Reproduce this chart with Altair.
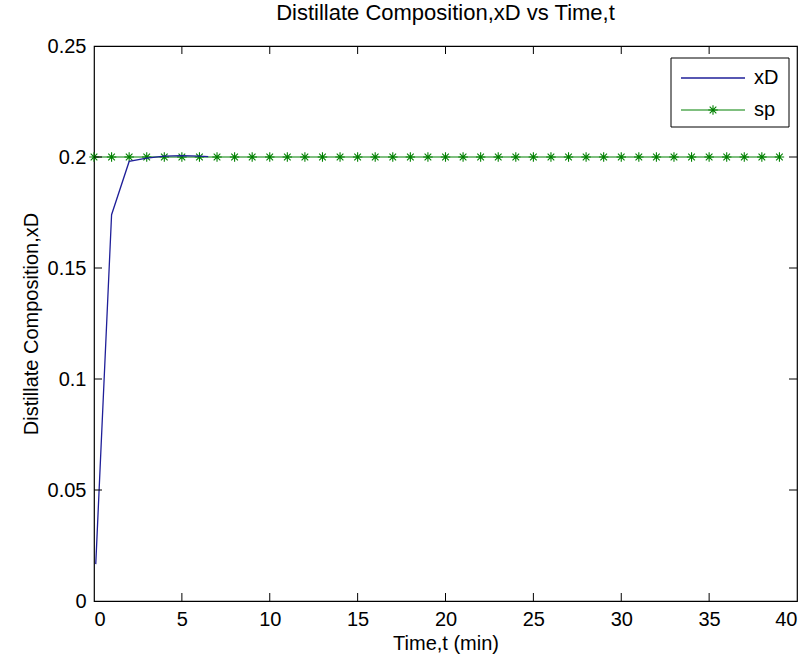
import altair as alt
import pandas as pd

# data
t_xd = [0.1, 1, 2, 3, 4, 5, 6, 6.5]
xd = [0.0166, 0.174, 0.198, 0.1995, 0.2004, 0.2006, 0.2004, 0.2002]
t_sp = list(range(0, 40))
sp = [0.2] * 40
x_ticks = [0, 5, 10, 15, 20, 25, 30, 35, 40]
y_ticks = [0, 0.05, 0.1, 0.15, 0.2, 0.25]

W, H = 703, 555
FONT = "Liberation Sans"
FS = 20
STAR = "M-1,0L1,0M0,-1L0,1M-0.7,-0.7L0.7,0.7M-0.7,0.7L0.7,-0.7"
GREEN = "#008000"
BLUE = "#1f1f99"

df_xd = pd.DataFrame({"t": t_xd, "v": xd})
df_sp = pd.DataFrame({"t": t_sp, "v": sp})

xs = alt.Scale(domain=[0, 40], nice=False, zero=False)
ys = alt.Scale(domain=[0, 0.25], nice=False, zero=False)

xaxis = alt.Axis(values=x_ticks, format="~g", title="Time,t (min)", grid=False,
                 domain=False, ticks=False, labelPadding=8, titlePadding=4,
                 labelFont=FONT, labelFontSize=FS, titleFont=FONT, titleFontSize=FS,
                 titleFontWeight="normal", labelColor="black", titleColor="black")
yaxis = alt.Axis(values=y_ticks, format="~g", title="Distillate Composition,xD", grid=False,
                 domain=False, ticks=False, labelPadding=8, titlePadding=6,
                 labelFont=FONT, labelFontSize=FS, titleFont=FONT, titleFontSize=FS,
                 titleFontWeight="normal", labelColor="black", titleColor="black")

sp_line = alt.Chart(df_sp).mark_line(color=GREEN, strokeWidth=1).encode(
    x=alt.X("t:Q", scale=xs, axis=xaxis),
    y=alt.Y("v:Q", scale=ys, axis=yaxis),
)
sp_pts = alt.Chart(df_sp).mark_point(shape=STAR, filled=False, color=GREEN, size=90, strokeWidth=1.1, opacity=1).encode(
    x=alt.X("t:Q", scale=xs), y=alt.Y("v:Q", scale=ys)
)
xd_line = alt.Chart(df_xd).mark_line(color=BLUE, strokeWidth=1.3).encode(
    x=alt.X("t:Q", scale=xs), y=alt.Y("v:Q", scale=ys)
)

tl = 8
dx = pd.DataFrame({"t": x_ticks[1:-1]})
dy = pd.DataFrame({"v": y_ticks[1:-1]})
tick_b = alt.Chart(dx).mark_rule(color="black").encode(x=alt.X("t:Q", scale=xs), y=alt.value(H), y2=alt.value(H - tl))
tick_t = alt.Chart(dx).mark_rule(color="black").encode(x=alt.X("t:Q", scale=xs), y=alt.value(0), y2=alt.value(tl))
tick_l = alt.Chart(dy).mark_rule(color="black").encode(y=alt.Y("v:Q", scale=ys), x=alt.value(0), x2=alt.value(tl))
tick_r = alt.Chart(dy).mark_rule(color="black").encode(y=alt.Y("v:Q", scale=ys), x=alt.value(W), x2=alt.value(W - tl))

# legend
one = pd.DataFrame({"a": [0]})
lx0, lx1, ly0, ly1 = 577, 695, 12, 81
leg_box = alt.Chart(one).mark_rect(fill="white", stroke="black", strokeWidth=1).encode(
    x=alt.value(lx0), x2=alt.value(lx1), y=alt.value(ly0), y2=alt.value(ly1))
leg_l1 = alt.Chart(one).mark_rule(color=BLUE, strokeWidth=1.3).encode(
    x=alt.value(587), x2=alt.value(651), y=alt.value(32))
leg_l2 = alt.Chart(one).mark_rule(color=GREEN, strokeWidth=1).encode(
    x=alt.value(587), x2=alt.value(651), y=alt.value(64))
leg_p2 = alt.Chart(one).mark_point(shape=STAR, filled=False, color=GREEN, size=90, strokeWidth=1.1, opacity=1).encode(
    x=alt.value(619), y=alt.value(64))
leg_t = alt.Chart(pd.DataFrame({"lab": ["xD", "sp"], "yy": [32, 64]})).mark_text(
    align="left", baseline="middle", font=FONT, fontSize=FS, color="black").encode(
    x=alt.value(660), y=alt.Y("yy:Q", scale=None), text="lab:N")

chart = alt.layer(
    sp_line, sp_pts, xd_line, tick_b, tick_t, tick_l, tick_r,
    leg_box, leg_l1, leg_l2, leg_p2, leg_t
).properties(
    width=W, height=H,
    title=alt.Title("Distillate Composition,xD vs Time,t", font=FONT, fontSize=22,
                    fontWeight="normal", color="black", anchor="middle", offset=11),
    autosize=alt.AutoSizeParams(type="none"),
    padding={"left": 94, "top": 46, "right": 14, "bottom": 61},
    background="white",
).configure_view(stroke="black", strokeWidth=1.2)

chart.save("out.html", embed_options={"renderer": "svg", "actions": False})
